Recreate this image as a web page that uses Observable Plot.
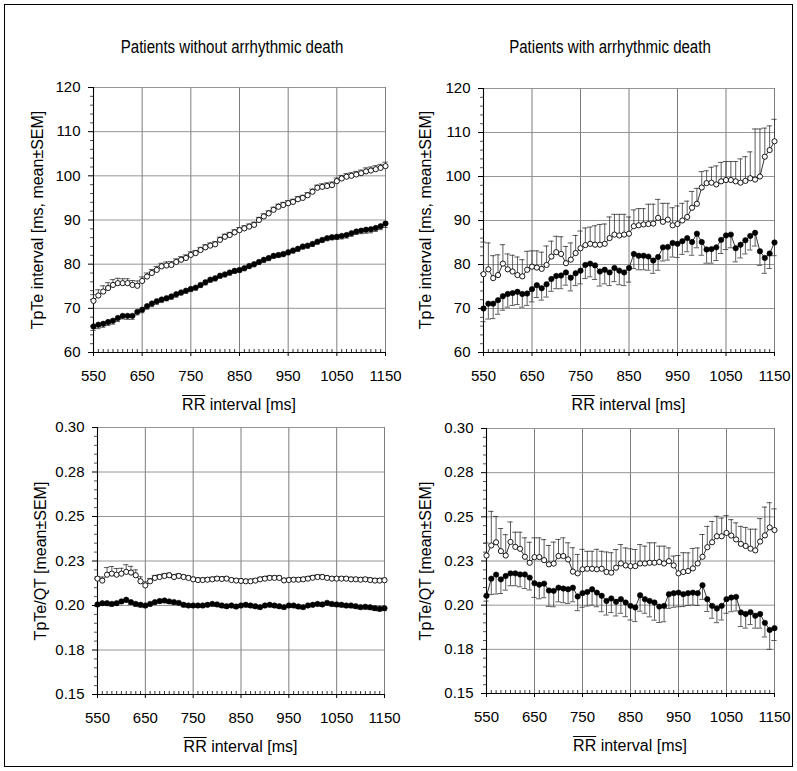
<!DOCTYPE html>
<html>
<head>
<meta charset="utf-8">
<script src="https://cdn.jsdelivr.net/npm/d3@7"></script>
<script src="https://cdn.jsdelivr.net/npm/@observablehq/plot@0.6"></script>
<style>
  html, body { margin: 0; padding: 0; background: #fff; }
  #fig { position: relative; width: 797px; height: 771px; background: #fff; font-family: 'Liberation Sans', Arial, sans-serif; color: #000; overflow: hidden; }
  .frame { position: absolute; left: 4px; top: 4px; width: 787px; height: 761px; border: 1.5px solid #000; }
  .title { position: absolute; transform: translate(-50%, -50%) scaleX(0.86); font-size: 17.5px; white-space: nowrap; }
  .xlab { position: absolute; transform: translate(-50%, -50%); font-size: 16px; white-space: nowrap; }
  .ylab { position: absolute; transform: translate(-50%, -50%) rotate(-90deg); font-size: 16px; white-space: nowrap; }
  .ov { text-decoration: overline; }
  .pan { position: absolute; }
</style>
</head>
<body>
<div id="fig"><div class="frame"></div></div>
<script>
// ---------- data ----------
const rr = [550,560,570,580,590,600,610,620,630,640,650,660,670,680,690,700,710,720,730,740,750,760,770,780,790,800,810,820,830,840,850,860,870,880,890,900,910,920,930,940,950,960,970,980,990,1000,1010,1020,1030,1040,1050,1060,1070,1080,1090,1100,1110,1120,1130,1140,1150];

const panelTitles = ["Patients without arrhythmic death", "Patients with arrhythmic death"];
const xTicks = [550, 650, 750, 850, 950, 1050, 1150];
const xTickLabels = ["550", "650", "750", "850", "950", "1050", "1150"];
const tpteTicks = [60, 70, 80, 90, 100, 110, 120];
const tpteTickLabels = ["60", "70", "80", "90", "100", "110", "120"];
const ratioTicks = [0.15, 0.175, 0.2, 0.225, 0.25, 0.275, 0.3];
const ratioTickLabels = ["0.15", "0.18", "0.20", "0.23", "0.25", "0.28", "0.30"];

// Top-left: TpTe, patients without arrhythmic death
const tlOpen = [71.7,72.9,73.8,74.6,75.3,75.7,75.7,75.7,75.3,75.1,76.2,77.2,78.0,78.7,79.5,79.7,79.8,80.5,81.0,81.4,82.1,82.5,83.2,83.8,84.2,84.5,85.5,86.2,86.6,87.2,87.7,88.1,88.5,88.9,90.0,90.8,91.5,92.3,93.0,93.4,93.8,94.1,94.7,95.0,95.6,96.4,97.3,97.5,97.7,97.9,98.8,99.4,99.8,100.0,100.3,100.6,101.0,101.2,101.5,101.8,102.2];
const tlOpenSem = [1.4,1.3,1.3,1.2,1.2,1.1,1.0,1.0,1.0,1.1,0.9,0.8,0.8,0.8,0.7,0.8,0.8,0.7,0.7,0.7,0.7,0.6,0.6,0.6,0.6,0.6,0.6,0.6,0.6,0.6,0.6,0.6,0.6,0.6,0.6,0.6,0.6,0.6,0.6,0.6,0.6,0.6,0.6,0.6,0.6,0.6,0.6,0.7,0.7,0.7,0.7,0.7,0.7,0.7,0.7,0.7,0.8,0.8,0.8,0.8,0.9];
const tlFilled = [65.9,66.3,66.5,66.9,67.2,67.8,68.3,68.3,68.3,69.2,69.7,70.5,71.1,71.6,72.0,72.3,72.7,73.2,73.6,74.0,74.4,74.7,75.3,75.9,76.5,76.8,77.4,77.7,78.1,78.5,78.7,79.1,79.6,80.0,80.5,81.0,81.4,81.9,82.1,82.3,82.7,83.1,83.5,84.0,84.2,84.6,85.1,85.5,85.9,86.1,86.2,86.4,86.6,87.0,87.4,87.6,87.8,87.9,88.2,88.6,89.2];
const tlFilledSem = [0.9,0.9,0.8,0.8,0.8,0.8,0.7,0.8,0.8,0.7,0.7,0.7,0.7,0.7,0.7,0.6,0.7,0.7,0.6,0.6,0.6,0.6,0.6,0.6,0.6,0.6,0.6,0.6,0.6,0.6,0.6,0.6,0.6,0.6,0.6,0.6,0.6,0.6,0.6,0.6,0.6,0.6,0.6,0.6,0.6,0.6,0.6,0.6,0.6,0.6,0.6,0.7,0.7,0.7,0.7,0.7,0.8,0.8,0.8,0.8,0.9];

// Top-right: TpTe, patients with arrhythmic death
const trOpen = [77.8,78.9,76.9,77.6,80.2,78.9,78.4,77.6,77.3,78.8,79.5,79.3,79.0,79.9,81.8,82.8,82.4,80.3,81.1,82.6,83.7,84.4,84.7,84.5,84.5,84.7,86.0,86.8,86.6,86.8,87.0,88.7,88.9,89.1,89.2,89.3,90.6,89.7,90.2,88.9,89.2,90.0,90.8,92.9,93.8,97.5,98.5,98.6,98.2,98.9,99.2,99.2,98.9,98.6,99.0,99.6,99.3,100.0,104.5,106.0,108.0];
const trOpenSem = [7.3,6.0,5.1,4.6,4.3,3.5,3.7,4.1,3.8,4.2,3.6,3.8,3.8,4.3,3.5,3.6,3.9,3.8,3.8,4.0,3.9,3.9,3.8,4.3,4.6,4.5,4.8,4.6,4.8,4.6,3.8,3.7,3.8,3.6,4.5,4.4,4.2,4.2,3.7,4.0,4.1,3.9,3.6,3.7,3.5,3.6,2.8,3.5,4.2,4.3,4.2,4.2,4.5,5.4,5.5,6.0,11.5,10.8,6.5,5.5,5.0];
const trFilled = [70.0,71.1,71.1,71.9,72.8,73.3,73.5,73.8,73.3,73.4,74.4,75.3,74.6,75.5,76.7,77.4,77.5,78.2,77.0,78.0,78.6,79.9,80.2,79.8,78.4,78.8,78.2,79.2,78.6,78.2,79.2,82.4,82.0,82.0,81.8,80.9,81.7,83.9,84.0,84.9,84.7,85.3,86.0,85.1,87.0,85.1,83.4,83.5,83.9,85.6,86.6,86.8,83.7,84.5,85.5,86.5,87.2,83.0,81.5,82.5,85.0];
const trFilledSem = [3.0,3.5,3.4,3.2,3.2,3.0,2.8,2.9,3.0,2.7,2.9,2.8,2.7,2.9,2.8,2.9,3.0,2.9,3.0,2.8,3.0,3.1,3.0,3.2,3.3,3.2,3.0,3.1,3.2,3.0,3.2,3.3,3.2,3.2,3.1,2.9,3.0,3.1,3.0,3.2,3.1,3.0,3.1,3.0,3.2,3.0,3.1,3.2,3.0,3.1,3.2,3.0,3.1,3.0,3.1,3.2,3.0,3.2,3.5,3.4,3.0];

// Bottom-left: TpTe/QT, patients without arrhythmic death
const blOpen = [0.2151,0.2140,0.2173,0.2179,0.2173,0.2179,0.2189,0.2185,0.2170,0.2136,0.2113,0.2136,0.2155,0.2160,0.2166,0.2170,0.2160,0.2166,0.2160,0.2155,0.2147,0.2143,0.2143,0.2145,0.2147,0.2151,0.2149,0.2151,0.2143,0.2140,0.2138,0.2136,0.2136,0.2140,0.2147,0.2151,0.2155,0.2155,0.2155,0.2141,0.2143,0.2145,0.2145,0.2147,0.2151,0.2156,0.2160,0.2160,0.2155,0.2151,0.2151,0.2151,0.2151,0.2147,0.2147,0.2145,0.2147,0.2143,0.2140,0.2140,0.2142];
const blOpenSem = [0.0010,0.0020,0.0040,0.0040,0.0035,0.0030,0.0040,0.0035,0.0030,0.0025,0.0020,0.0015,0.0014,0.0013,0.0013,0.0012,0.0012,0.0013,0.0012,0.0012,0.0012,0.0012,0.0011,0.0011,0.0012,0.0012,0.0011,0.0011,0.0011,0.0011,0.0011,0.0011,0.0011,0.0011,0.0011,0.0012,0.0012,0.0012,0.0012,0.0011,0.0011,0.0011,0.0011,0.0011,0.0011,0.0012,0.0012,0.0012,0.0012,0.0011,0.0011,0.0011,0.0011,0.0011,0.0011,0.0011,0.0011,0.0012,0.0012,0.0012,0.0012];
const blFilled = [0.2006,0.2013,0.2013,0.2009,0.2013,0.2023,0.2032,0.2019,0.2009,0.2004,0.2000,0.2009,0.2019,0.2025,0.2028,0.2023,0.2019,0.2015,0.2004,0.2000,0.2000,0.2000,0.2000,0.2004,0.2009,0.2006,0.2000,0.1996,0.2000,0.1994,0.2000,0.2004,0.2000,0.1996,0.1991,0.2000,0.2004,0.2000,0.1996,0.1991,0.2000,0.2000,0.1994,0.1991,0.2000,0.2004,0.2009,0.2006,0.2015,0.2009,0.2006,0.2004,0.2000,0.2000,0.1996,0.1991,0.1993,0.1990,0.1985,0.1982,0.1985];
const blFilledSem = [0.0012,0.0013,0.0013,0.0013,0.0012,0.0013,0.0014,0.0013,0.0012,0.0012,0.0012,0.0012,0.0012,0.0012,0.0012,0.0012,0.0012,0.0011,0.0011,0.0011,0.0011,0.0011,0.0011,0.0011,0.0011,0.0011,0.0011,0.0011,0.0011,0.0011,0.0011,0.0011,0.0011,0.0011,0.0011,0.0011,0.0011,0.0011,0.0011,0.0011,0.0011,0.0011,0.0011,0.0011,0.0011,0.0011,0.0011,0.0011,0.0012,0.0012,0.0012,0.0012,0.0012,0.0012,0.0012,0.0012,0.0013,0.0013,0.0013,0.0014,0.0014];

// Bottom-right: TpTe/QT, patients with arrhythmic death
const brOpen = [0.2281,0.2338,0.2356,0.2306,0.2281,0.2358,0.2330,0.2319,0.2274,0.2240,0.2272,0.2272,0.2255,0.2231,0.2235,0.2278,0.2278,0.2259,0.2190,0.2180,0.2203,0.2206,0.2206,0.2203,0.2206,0.2188,0.2184,0.2212,0.2236,0.2225,0.2221,0.2221,0.2236,0.2236,0.2240,0.2240,0.2244,0.2236,0.2249,0.2225,0.2180,0.2188,0.2193,0.2208,0.2236,0.2274,0.2328,0.2356,0.2390,0.2390,0.2409,0.2394,0.2372,0.2347,0.2335,0.2320,0.2310,0.2360,0.2395,0.2440,0.2425];
const brOpenSem = [0.0071,0.0193,0.0146,0.0128,0.0118,0.0113,0.0083,0.0094,0.0107,0.0116,0.0109,0.0109,0.0116,0.0107,0.0122,0.0094,0.0103,0.0094,0.0135,0.0107,0.0113,0.0099,0.0099,0.0113,0.0099,0.0113,0.0113,0.0103,0.0107,0.0099,0.0098,0.0094,0.0107,0.0098,0.0113,0.0113,0.0090,0.0098,0.0075,0.0053,0.0101,0.0109,0.0103,0.0113,0.0088,0.0126,0.0118,0.0118,0.0113,0.0103,0.0098,0.0090,0.0094,0.0099,0.0105,0.0110,0.0120,0.0130,0.0160,0.0140,0.0120];
const brFilled = [0.2053,0.2150,0.2173,0.2146,0.2165,0.2180,0.2180,0.2174,0.2174,0.2156,0.2124,0.2116,0.2122,0.2083,0.2081,0.2099,0.2094,0.2090,0.2099,0.2049,0.2068,0.2075,0.2090,0.2071,0.2053,0.2024,0.2038,0.2019,0.2034,0.2015,0.1996,0.1987,0.2056,0.2034,0.2024,0.2015,0.1992,0.1996,0.2062,0.2068,0.2071,0.2062,0.2068,0.2071,0.2068,0.2113,0.2034,0.1996,0.1981,0.1996,0.2034,0.2043,0.2047,0.1959,0.1950,0.1960,0.1940,0.1950,0.1900,0.1860,0.1870];
const brFilledSem = [0.003,0.009,0.011,0.008,0.008,0.007,0.007,0.007,0.008,0.007,0.008,0.008,0.008,0.009,0.009,0.008,0.008,0.008,0.008,0.008,0.008,0.008,0.009,0.008,0.009,0.008,0.008,0.008,0.008,0.008,0.008,0.008,0.009,0.008,0.009,0.010,0.009,0.009,0.008,0.008,0.008,0.007,0.007,0.007,0.007,0.008,0.007,0.007,0.008,0.008,0.008,0.008,0.008,0.008,0.008,0.007,0.007,0.008,0.008,0.011,0.007];

// ---------- drawing ----------
const fig = document.getElementById("fig");
const xMinor = d3.range(550, 1151, 10).filter(v => (v - 550) % 100 !== 0);

function addText(cls, html, cx, cy) {
  const d = document.createElement("div");
  d.className = cls;
  d.innerHTML = html;
  d.style.left = cx + "px";
  d.style.top = cy + "px";
  fig.appendChild(d);
}

function panel(cfg) {
  const [x0, y0, x1, y1] = cfg.box;
  const mL = 52, mT = 12, mR = 16, mB = 40;
  const rowsO = rr.map((x, i) => ({x, y: cfg.open[i], e: cfg.openSem[i]}));
  const rowsF = rr.map((x, i) => ({x, y: cfg.filled[i], e: cfg.filledSem[i]}));
  const fmtY = d => cfg.yLabels[cfg.yTicks.indexOf(d)] ?? "";
  const fmtX = d => xTickLabels[xTicks.indexOf(d)] ?? "";
  const capW = 5.5;
  const chart = Plot.plot({
    width: mL + (x1 - x0) + mR,
    height: mT + (y1 - y0) + mB,
    marginLeft: mL, marginTop: mT, marginRight: mR, marginBottom: mB,
    style: {fontFamily: "'Liberation Sans', Arial, sans-serif", fontSize: "15px", color: "#000", background: "transparent", overflow: "visible"},
    x: {domain: [550, 1150], label: null},
    y: {domain: cfg.yDomain, label: null},
    marks: [
      Plot.gridX(xTicks, {stroke: "#6e6e6e", strokeOpacity: 1, strokeWidth: 0.9}),
      Plot.gridY(cfg.yTicks, {stroke: "#8a8a8a", strokeOpacity: 1, strokeWidth: 0.9}),
      Plot.axisY(cfg.yMinor, {tickSize: 3, tickFormat: () => "", stroke: "#555", label: null}),
      Plot.axisY(cfg.yTicks, {tickSize: 5, tickPadding: 8, tickFormat: fmtY, label: null}),
      Plot.axisX(xMinor, {tickSize: 3, dy: -3, tickFormat: () => "", stroke: "#333", label: null}),
      Plot.axisX(xTicks, {tickSize: 4, tickPadding: 14, tickFormat: fmtX, label: null}),
      Plot.ruleX([550], {stroke: "#000", strokeWidth: 1.1}),
      Plot.ruleY([cfg.yDomain[0]], {stroke: "#000", strokeWidth: 1.1}),
      // error bars: open upward, filled downward
      Plot.ruleX(rowsO, {x: "x", y1: "y", y2: d => d.y + d.e, stroke: "#333", strokeWidth: 0.8}),
      Plot.ruleY(rowsO, {y: d => d.y + d.e, x1: d => d.x - capW, x2: d => d.x + capW, stroke: "#333", strokeWidth: 0.8}),
      Plot.ruleX(rowsF, {x: "x", y1: "y", y2: d => d.y - d.e, stroke: "#333", strokeWidth: 0.8}),
      Plot.ruleY(rowsF, {y: d => d.y - d.e, x1: d => d.x - capW, x2: d => d.x + capW, stroke: "#333", strokeWidth: 0.8}),
      Plot.line(rowsO, {x: "x", y: "y", stroke: "#000", strokeWidth: 0.8}),
      Plot.line(rowsF, {x: "x", y: "y", stroke: "#000", strokeWidth: 0.8}),
      Plot.dot(rowsO, {x: "x", y: "y", r: 2.6, fill: "#fff", stroke: "#000", strokeWidth: 0.9}),
      Plot.dot(rowsF, {x: "x", y: "y", r: 2.7, fill: "#000", stroke: "#000", strokeWidth: 0.6})
    ]
  });
  chart.classList.add("pan");
  chart.style.left = (x0 - mL) + "px";
  chart.style.top = (y0 - mT) + "px";
  fig.appendChild(chart);
  // labels
  addText("xlab", '<span class="ov">RR</span> interval [ms]', (x0 + x1) / 2, y1 + 53);
  addText("ylab", cfg.yTitle, cfg.yTitleX, (y0 + y1) / 2);
}

const tpteMinor = d3.range(60, 121, 2).filter(v => v % 10 !== 0);
const ratioMinor = d3.range(0, 31).map(i => 0.15 + i * 0.005).filter((v, i) => i % 5 !== 0);

panel({box: [93, 87, 385, 352], open: tlOpen, openSem: tlOpenSem, filled: tlFilled, filledSem: tlFilledSem,
  yDomain: [60, 120], yTicks: tpteTicks, yLabels: tpteTickLabels, yMinor: tpteMinor,
  yTitle: "TpTe interval [ms, mean±SEM]", yTitleX: 38});
panel({box: [483, 88, 774, 352], open: trOpen, openSem: trOpenSem, filled: trFilled, filledSem: trFilledSem,
  yDomain: [60, 120], yTicks: tpteTicks, yLabels: tpteTickLabels, yMinor: tpteMinor,
  yTitle: "TpTe interval [ms, mean±SEM]", yTitleX: 426});
panel({box: [97, 427, 384, 694], open: blOpen, openSem: blOpenSem, filled: blFilled, filledSem: blFilledSem,
  yDomain: [0.15, 0.30], yTicks: ratioTicks, yLabels: ratioTickLabels, yMinor: ratioMinor,
  yTitle: "TpTe/QT [mean±SEM]", yTitleX: 41});
panel({box: [486, 428, 774, 693], open: brOpen, openSem: brOpenSem, filled: brFilled, filledSem: brFilledSem,
  yDomain: [0.15, 0.30], yTicks: ratioTicks, yLabels: ratioTickLabels, yMinor: ratioMinor,
  yTitle: "TpTe/QT [mean±SEM]", yTitleX: 426});

addText("title", panelTitles[0], 232, 47);
addText("title", panelTitles[1], 610, 47);
</script>
</body>
</html>
